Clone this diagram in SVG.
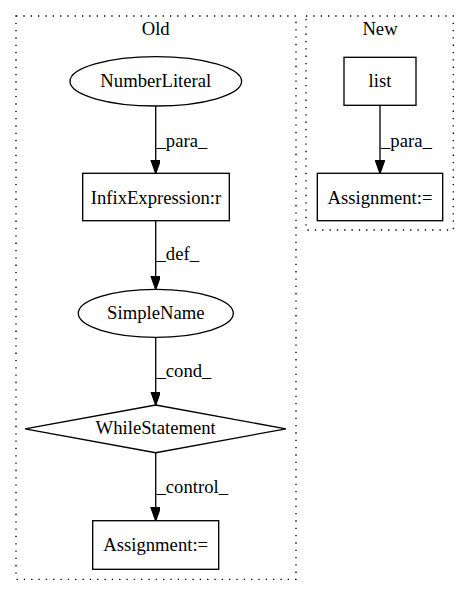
<svg xmlns="http://www.w3.org/2000/svg" width="469" height="596" viewBox="0 0 469 596" font-family="'Liberation Serif', 'Times New Roman', Times, serif">
<defs>
<marker id="arr" markerUnits="userSpaceOnUse" markerWidth="14" markerHeight="10" refX="13.3" refY="4.7" orient="auto">
<path d="M0,0 L13.3,4.7 L0,9.4 Z" fill="#000" stroke="#000" stroke-width="1.33"/>
</marker>
<style>
text{font-family:'Liberation Serif','Times New Roman',Times,serif;font-size:18.67px;fill:#000}
.c{text-anchor:middle}
.n{fill:#fff;stroke:#000;stroke-width:1.33}
.cl{fill:none;stroke:#000;stroke-width:1.33;stroke-dasharray:1.33,6}
.e{fill:none;stroke:#000;stroke-width:1.33;marker-end:url(#arr)}
</style>
</defs>
<rect width="469" height="596" fill="#fff"/>
<g id="cluster_old">
<rect class="cl" x="16" y="16" width="280" height="563.3"/>
<text class="c" x="155.7" y="35">Old</text>
</g>
<g id="cluster_new">
<rect class="cl" x="306" y="16" width="147.3" height="214"/>
<text class="c" x="380" y="35">New</text>
</g>
<g id="connectors">
<path class="e" d="M155.7,106 L155.7,173.3"/>
<text x="156.5" y="146.7">_para_</text>
<path class="e" d="M155.7,220.7 L155.7,289.3"/>
<text x="156.5" y="260">_def_</text>
<path class="e" d="M155.7,337.3 L155.7,405"/>
<text x="156.5" y="376.7">_cond_</text>
<path class="e" d="M155.7,452.7 L155.7,520.7"/>
<text x="156.5" y="493.3">_control_</text>
<path class="e" d="M380,105.3 L380,173.3"/>
<text x="381" y="146.7">_para_</text>
</g>
<g id="NumberLiteral">
<ellipse class="n" cx="155.8" cy="81.3" rx="85.8" ry="24.7"/>
<text class="c" x="155.8" y="86.5">NumberLiteral</text>
</g>
<g id="InfixExpression">
<rect class="n" x="82.7" y="173.3" width="146.6" height="47.4"/>
<text class="c" x="156" y="204">InfixExpression:r</text>
</g>
<g id="SimpleName">
<ellipse class="n" cx="155.8" cy="313.3" rx="77.5" ry="24"/>
<text class="c" x="155.8" y="318.5">SimpleName</text>
</g>
<g id="WhileStatement">
<polygon class="n" points="155.7,405 286,428.8 155.7,452.7 25,428.8"/>
<text class="c" x="155.7" y="434">WhileStatement</text>
</g>
<g id="Assignment_old">
<rect class="n" x="92.7" y="520.7" width="126" height="48.6"/>
<text class="c" x="155.7" y="551">Assignment:=</text>
</g>
<g id="list">
<rect class="n" x="344" y="57.3" width="72" height="48"/>
<text class="c" x="380" y="86.5">list</text>
</g>
<g id="Assignment_new">
<rect class="n" x="317.3" y="173.3" width="125.4" height="47.4"/>
<text class="c" x="380" y="204">Assignment:=</text>
</g>
</svg>
